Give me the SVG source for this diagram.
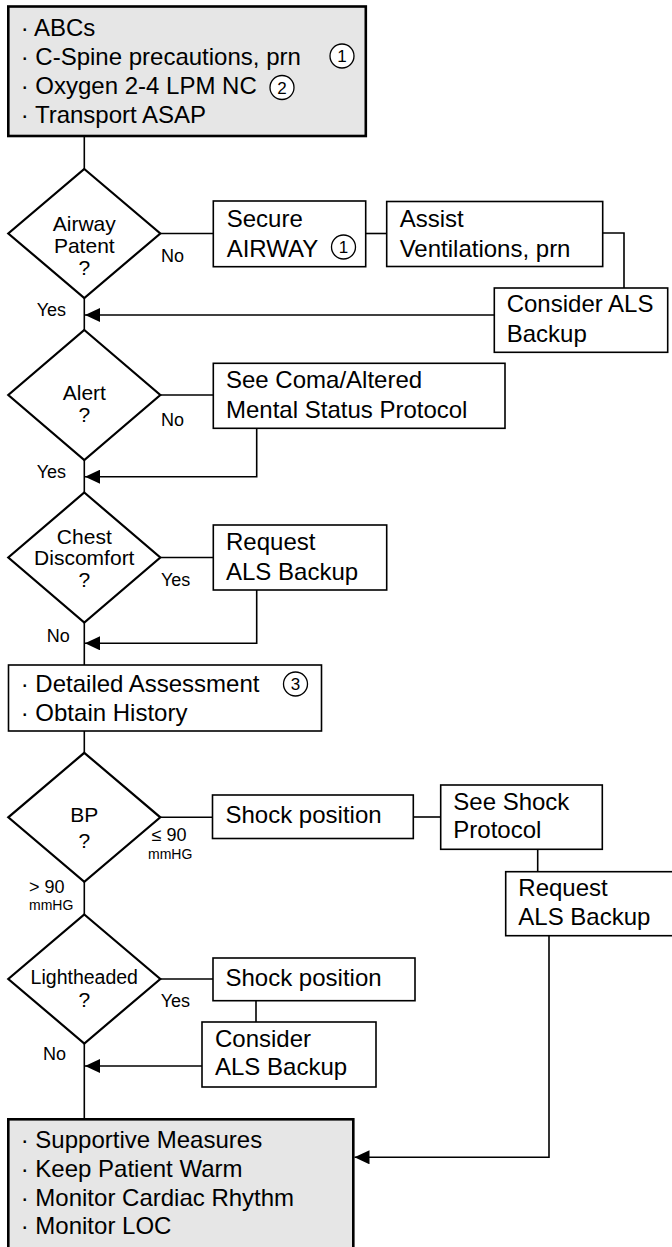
<svg xmlns="http://www.w3.org/2000/svg" width="672" height="1247" viewBox="0 0 672 1247">
<style>
  .box{fill:#fff;stroke:#000;stroke-width:1.6}
  .gbox{fill:#e6e6e6;stroke:#000;stroke-width:2.6}
  .dia{fill:#fff;stroke:#000;stroke-width:2.2}
  .ln{fill:none;stroke:#000;stroke-width:1.6}
  .t{font-family:"Liberation Sans",Arial,sans-serif;font-size:24px;fill:#000}
  .d{font-family:"Liberation Sans",Arial,sans-serif;font-size:21px;fill:#000;text-anchor:middle}
  .l{font-family:"Liberation Sans",Arial,sans-serif;font-size:18px;fill:#000}
  .s{font-family:"Liberation Sans",Arial,sans-serif;font-size:14px;fill:#000}
  .c{fill:#fff;stroke:#000;stroke-width:1.3}
  .cn{font-family:"Liberation Sans",Arial,sans-serif;font-size:17px;fill:#000;text-anchor:middle}
</style>
<defs>
  <marker id="arr" markerWidth="15" markerHeight="14" refX="15" refY="7" orient="auto" markerUnits="userSpaceOnUse">
    <path d="M0,0 L15,7 L0,14 z" fill="#000"/>
  </marker>
</defs>

<g id="connectors">
  <path class="ln" d="M84.3,136 V169"/>
  <path class="ln" d="M160.3,233.5 H213.3"/>
  <path class="ln" d="M365.7,233.5 H386.7"/>
  <path class="ln" d="M602.7,233 H624 V288"/>
  <path class="ln" d="M494.3,315 H85" marker-end="url(#arr)"/>
  <path class="ln" d="M84.3,298 V330"/>
  <path class="ln" d="M160.3,395 H213.3"/>
  <path class="ln" d="M256.7,428.3 V476.7 H85" marker-end="url(#arr)"/>
  <path class="ln" d="M84.3,460 V492.5"/>
  <path class="ln" d="M160.3,557.5 H213.3"/>
  <path class="ln" d="M256.7,590 V643.3 H85" marker-end="url(#arr)"/>
  <path class="ln" d="M84.3,622.5 V665"/>
  <path class="ln" d="M84.3,731 V752.8"/>
  <path class="ln" d="M160.3,817.3 H212.5"/>
  <path class="ln" d="M413.3,817 H440.7"/>
  <path class="ln" d="M537.7,849.3 V871.7"/>
  <path class="ln" d="M84.3,881.8 V914.5"/>
  <path class="ln" d="M160.3,979 H213"/>
  <path class="ln" d="M256,1000.7 V1022"/>
  <path class="ln" d="M202,1066 H85" marker-end="url(#arr)"/>
  <path class="ln" d="M84.3,1043.5 V1119.3"/>
  <path class="ln" d="M549,935.7 V1157.3 H354.5" marker-end="url(#arr)"/>
</g>

<g id="labels">
  <text class="l" x="161" y="261.7">No</text>
  <text class="l" x="36.7" y="316">Yes</text>
  <text class="l" x="161" y="426">No</text>
  <text class="l" x="36.7" y="477.7">Yes</text>
  <text class="l" x="161" y="586">Yes</text>
  <text class="l" x="46.7" y="642.3">No</text>
  <text class="l" x="151.7" y="840.7">≤ 90</text>
  <text class="s" x="148" y="859.3">mmHG</text>
  <text class="l" x="29" y="893.3">&gt; 90</text>
  <text class="s" x="29" y="910">mmHG</text>
  <text class="l" x="160.7" y="1006.7">Yes</text>
  <text class="l" x="42.9" y="1060">No</text>
</g>

<g id="start">
  <rect class="gbox" x="8.3" y="6.5" width="357.5" height="129.5"/>
  <text class="t" x="20.7" y="35.5">· ABCs</text>
  <text class="t" x="20.7" y="64.5">· C-Spine precautions, prn</text>
  <text class="t" x="20.7" y="93.5">· Oxygen 2-4 LPM NC</text>
  <text class="t" x="20.7" y="122.5">· Transport ASAP</text>
  <circle class="c" cx="342" cy="56" r="12"/>
  <text class="cn" x="342" y="62">1</text>
  <circle class="c" cx="282" cy="87.5" r="12"/>
  <text class="cn" x="282" y="93.5">2</text>
</g>

<g id="airway">
  <path class="dia" d="M84.3,169 L160.3,233.5 L84.3,298 L8.3,233.5 Z"/>
  <text class="d" x="84.3" y="230.7">Airway</text>
  <text class="d" x="84.3" y="252.7">Patent</text>
  <text class="d" x="84.3" y="274.5">?</text>
</g>

<g id="secure">
  <rect class="box" x="213.3" y="201" width="152.4" height="65.7"/>
  <text class="t" x="226.7" y="226.7">Secure</text>
  <text class="t" x="226.7" y="256.7">AIRWAY</text>
  <circle class="c" cx="343.5" cy="247" r="12"/>
  <text class="cn" x="343.5" y="253">1</text>
</g>

<g id="assist">
  <rect class="box" x="386.7" y="201.5" width="216" height="65"/>
  <text class="t" x="399.7" y="226.7">Assist</text>
  <text class="t" x="399.7" y="256.7">Ventilations, prn</text>
</g>

<g id="consider1">
  <rect class="box" x="494.3" y="288" width="173.4" height="64.3"/>
  <text class="t" x="506.7" y="311.7">Consider ALS</text>
  <text class="t" x="506.7" y="341.7">Backup</text>
</g>

<g id="alert">
  <path class="dia" d="M84.3,330 L160.3,395 L84.3,460 L8.3,395 Z"/>
  <text class="d" x="84.3" y="399.5">Alert</text>
  <text class="d" x="84.3" y="421.5">?</text>
</g>

<g id="coma">
  <rect class="box" x="213.3" y="363.3" width="291.7" height="65"/>
  <text class="t" x="226" y="388.3">See Coma/Altered</text>
  <text class="t" x="226" y="418.3">Mental Status Protocol</text>
</g>

<g id="chest">
  <path class="dia" d="M84.3,492.5 L160.3,557.5 L84.3,622.5 L8.3,557.5 Z"/>
  <text class="d" x="84.3" y="543.5">Chest</text>
  <text class="d" x="84.3" y="565">Discomfort</text>
  <text class="d" x="84.3" y="587">?</text>
</g>

<g id="request1">
  <rect class="box" x="213.3" y="525" width="173.4" height="65"/>
  <text class="t" x="226" y="550">Request</text>
  <text class="t" x="226" y="580">ALS Backup</text>
</g>

<g id="detailed">
  <rect class="box" x="8.5" y="665" width="313" height="66"/>
  <text class="t" x="20.7" y="692">· Detailed Assessment</text>
  <text class="t" x="20.7" y="721">· Obtain History</text>
  <circle class="c" cx="295.5" cy="684" r="12"/>
  <text class="cn" x="295.5" y="690">3</text>
</g>

<g id="bp">
  <path class="dia" d="M84.3,752.8 L160.3,817.3 L84.3,881.8 L8.3,817.3 Z"/>
  <text class="d" x="84.3" y="821.7">BP</text>
  <text class="d" x="84.3" y="848.3">?</text>
</g>

<g id="shock1">
  <rect class="box" x="212.5" y="795" width="200.8" height="43.5"/>
  <text class="t" x="225.5" y="823.3">Shock position</text>
</g>

<g id="seeshock">
  <rect class="box" x="440.7" y="785" width="161.6" height="64.3"/>
  <text class="t" x="453.3" y="810">See Shock</text>
  <text class="t" x="453.3" y="838.3">Protocol</text>
</g>

<g id="request2">
  <rect class="box" x="505.7" y="871.7" width="172" height="64"/>
  <text class="t" x="518.3" y="896">Request</text>
  <text class="t" x="518.3" y="925">ALS Backup</text>
</g>

<g id="lightheaded">
  <path class="dia" d="M84.3,914.5 L160.3,979 L84.3,1043.5 L8.3,979 Z"/>
  <text class="d" x="84.3" y="984.3" style="font-size:19.5px">Lightheaded</text>
  <text class="d" x="84.3" y="1006.7">?</text>
</g>

<g id="shock2">
  <rect class="box" x="213" y="958" width="202" height="42.7"/>
  <text class="t" x="225.5" y="986">Shock position</text>
</g>

<g id="consider2">
  <rect class="box" x="202" y="1022" width="174" height="65"/>
  <text class="t" x="215" y="1047">Consider</text>
  <text class="t" x="215" y="1075">ALS Backup</text>
</g>

<g id="end">
  <rect class="gbox" x="8.3" y="1119.3" width="345" height="135"/>
  <text class="t" x="20.7" y="1148.3">· Supportive Measures</text>
  <text class="t" x="20.7" y="1177.3">· Keep Patient Warm</text>
  <text class="t" x="20.7" y="1206">· Monitor Cardiac Rhythm</text>
  <text class="t" x="20.7" y="1234.3">· Monitor LOC</text>
</g>
</svg>
